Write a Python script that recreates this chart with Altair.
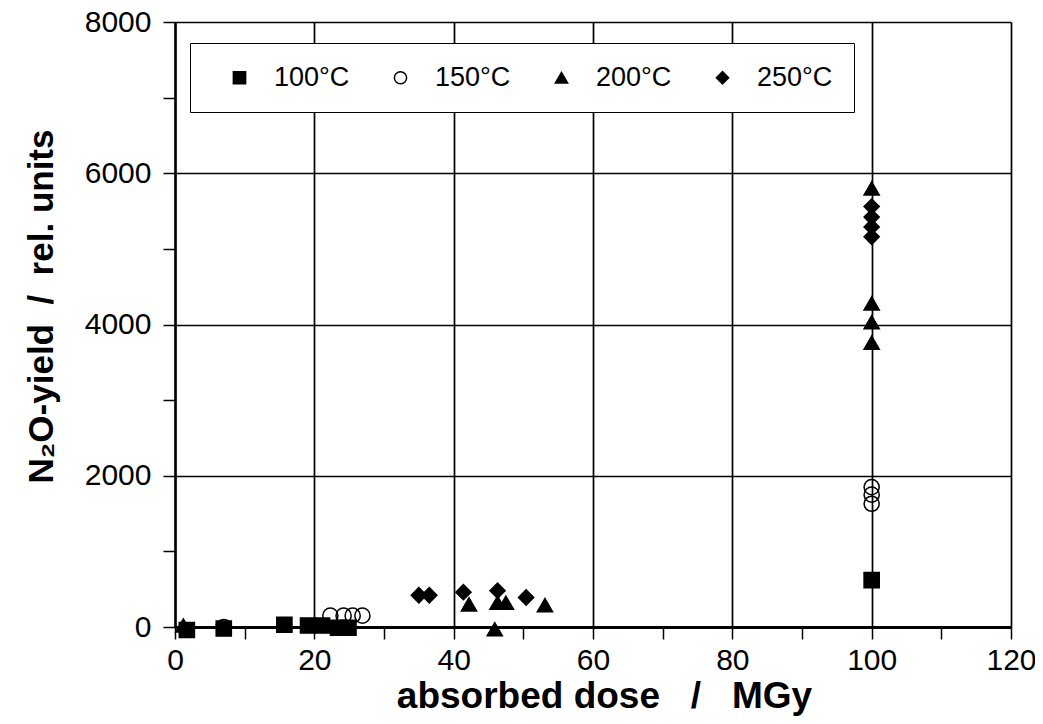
import altair as alt
import pandas as pd

# ---- data ----
series_names = ["100°C", "150°C", "200°C", "250°C"]

dose_100 = [1.7, 7.0, 15.7, 19.1, 21.1, 23.4, 24.9, 100.0]
yield_100 = [-40, -20, 30, 20, 20, -10, -10, 620]

dose_150 = [7.0, 22.3, 24.2, 25.5, 26.9, 100.0, 100.0, 100.0]
yield_150 = [0, 150, 150, 150, 150, 1850, 1750, 1630]

dose_200 = [1.2, 42.2, 45.9, 46.3, 47.5, 53.1, 100.0, 100.0, 100.0, 100.0]
yield_200 = [20, 300, -30, 320, 320, 290, 5800, 4280, 4030, 3760]

dose_250 = [35.0, 36.5, 41.4, 46.3, 50.4, 100.0, 100.0, 100.0, 100.0]
yield_250 = [420, 420, 460, 480, 390, 5560, 5420, 5290, 5160]

x_ticks = list(range(0, 121, 10))
y_ticks = list(range(0, 8001, 1000))

rows = []
for name, xs, ys in zip(series_names,
                        [dose_100, dose_150, dose_200, dose_250],
                        [yield_100, yield_150, yield_200, yield_250]):
    for xv, yv in zip(xs, ys):
        rows.append({"dose": xv, "yield": yv, "series": name})
df = pd.DataFrame(rows)

FONT = "Liberation Sans"
NB = "\u00a0"

x_axis = alt.Axis(
    values=x_ticks,
    labelExpr="datum.value % 20 === 0 ? datum.label : ''",
    grid=True,
    gridColor="black",
    gridWidth=1.7,
    gridOpacity={"condition": {"test": "datum.value % 20 === 0", "value": 1}, "value": 0},
    tickColor="black", tickWidth=1.5, tickSize=12,
    domainColor="black", domainWidth=3,
    labelFont=FONT, labelFontSize=30, labelColor="black", labelPadding=6,
    labelFlush=False,
    title="absorbed dose" + NB * 3 + "/" + NB * 3 + "MGy",
    titleFont=FONT, titleFontSize=37, titleFontWeight="bold", titleColor="black",
    titleX=429, titleY=80, titleAlign="center", titleBaseline="alphabetic",
)

y_axis = alt.Axis(
    values=y_ticks,
    labelExpr="datum.value % 2000 === 0 ? datum.label : ''",
    format="d",
    grid=True,
    gridColor="black",
    gridWidth=1.7,
    gridOpacity={"condition": {"test": "datum.value % 2000 === 0", "value": 1}, "value": 0},
    tickColor="black", tickWidth=1.5, tickSize=12,
    domainColor="black", domainWidth=2.5,
    labelFont=FONT, labelFontSize=30, labelColor="black", labelPadding=12,
    labelFlush=False,
    title="N₂O-yield" + NB * 2 + "/" + NB * 2 + "rel. units",
    titleFont=FONT, titleFontSize=35, titleFontWeight="bold", titleColor="black",
    titleAngle=270, titleX=-123, titleY=284, titleAlign="center", titleBaseline="alphabetic",
)

legend = alt.Legend(
    title=None,
    orient="none", legendX=15, legendY=21,
    direction="horizontal", columns=4,
    strokeColor="black", fillColor="white",
    padding=21,
    labelFont=FONT, labelFontSize=27, labelColor="black",
    symbolSize=150, symbolStrokeWidth=1.5,
    symbolOffset=15, labelOffset=21, columnPadding=22,
)

chart = alt.Chart(df).mark_point(
    strokeWidth=1.5, opacity=1, filled=False, size=230
).encode(
    x=alt.X("dose:Q", scale=alt.Scale(domain=[0, 120], nice=False), axis=x_axis),
    y=alt.Y("yield:Q", scale=alt.Scale(domain=[0, 8000], nice=False), axis=y_axis),
    shape=alt.Shape("series:N",
                    scale=alt.Scale(domain=series_names,
                                    range=["square", "circle", "triangle-up", "diamond"]),
                    legend=legend),
    fill=alt.Fill("series:N",
                  scale=alt.Scale(domain=series_names,
                                  range=["black", "transparent", "black", "black"]),
                  legend=legend),
    stroke=alt.Stroke("series:N",
                      scale=alt.Scale(domain=series_names,
                                      range=["black", "black", "black", "black"]),
                      legend=legend),
).properties(
    width=836, height=605,
    autosize=alt.AutoSizeParams(type="none"),
    padding={"left": 167, "top": 14, "right": 24, "bottom": 89},
).configure_view(
    stroke="black", strokeWidth=1.7
).configure_legend(
    strokeWidth=2.5
).configure(
    background="white"
)

chart.save("out.html", embed_options={"renderer": "svg", "actions": False})
